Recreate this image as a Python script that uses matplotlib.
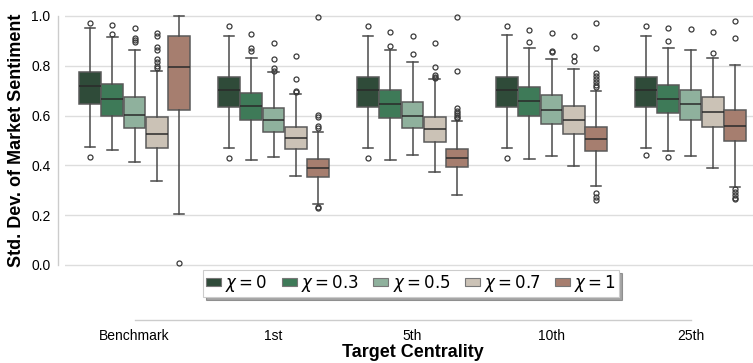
import matplotlib
matplotlib.use("Agg")
import matplotlib.pyplot as plt
from matplotlib.patches import Patch

plt.rcParams['font.family'] = ['Liberation Sans', 'DejaVu Sans']
plt.rcParams['mathtext.fontset'] = 'dejavusans'

groups = ["Benchmark", "1st", "5th", "10th", "25th"]
chi_labels = [r"$\chi = 0$", r"$\chi = 0.3$", r"$\chi = 0.5$", r"$\chi = 0.7$", r"$\chi = 1$"]
colors = ["#2f4b39", "#3e7a58", "#8fb19d", "#cbc2b6", "#a67e6f"]

# per group: lists indexed by chi
q1 = [
    [0.645, 0.598, 0.550, 0.469, 0.622],
    [0.636, 0.582, 0.533, 0.465, 0.352],
    [0.636, 0.589, 0.550, 0.495, 0.392],
    [0.636, 0.597, 0.565, 0.526, 0.458],
    [0.636, 0.610, 0.581, 0.554, 0.498],
]
med = [
    [0.718, 0.665, 0.602, 0.525, 0.797],
    [0.701, 0.639, 0.581, 0.510, 0.390],
    [0.701, 0.648, 0.600, 0.545, 0.428],
    [0.701, 0.659, 0.622, 0.581, 0.505],
    [0.701, 0.668, 0.645, 0.613, 0.558],
]
q3 = [
    [0.775, 0.726, 0.675, 0.593, 0.920],
    [0.754, 0.692, 0.629, 0.555, 0.427],
    [0.754, 0.701, 0.656, 0.596, 0.467],
    [0.753, 0.713, 0.681, 0.640, 0.555],
    [0.754, 0.723, 0.701, 0.673, 0.621],
]
whislo = [
    [0.475, 0.462, 0.415, 0.339, 0.204],
    [0.469, 0.422, 0.435, 0.356, 0.244],
    [0.469, 0.420, 0.443, 0.373, 0.280],
    [0.468, 0.424, 0.436, 0.399, 0.316],
    [0.470, 0.459, 0.438, 0.388, 0.313],
]
whishi = [
    [0.950, 0.916, 0.863, 0.780, 1.000],
    [0.921, 0.830, 0.774, 0.686, 0.535],
    [0.921, 0.865, 0.814, 0.746, 0.580],
    [0.923, 0.871, 0.827, 0.787, 0.699],
    [0.921, 0.873, 0.865, 0.833, 0.802],
]
fliers = [
    [[0.972, 0.435], [0.964, 0.928], [0.950, 0.910, 0.904, 0.897],
     [0.933, 0.920, 0.877, 0.863, 0.826, 0.817, 0.799, 0.790], [0.007]],
    [[0.960, 0.430], [0.929, 0.870, 0.859], [0.890, 0.826, 0.790, 0.780],
     [0.841, 0.746, 0.700, 0.695], [0.997, 0.602, 0.593, 0.558, 0.551, 0.234, 0.228]],
    [[0.960, 0.430], [0.936, 0.878], [0.918, 0.849],
     [0.890, 0.797, 0.763, 0.756, 0.751], [0.997, 0.780, 0.632, 0.618, 0.609, 0.602, 0.593, 0.589]],
    [[0.960, 0.431], [0.942, 0.894], [0.930, 0.859, 0.854],
     [0.918, 0.841, 0.819], [0.973, 0.870, 0.772, 0.759, 0.746, 0.736, 0.723, 0.716, 0.288, 0.274, 0.261]],
    [[0.960, 0.440], [0.950, 0.901, 0.432], [0.946],
     [0.934, 0.851], [0.980, 0.910, 0.304, 0.292, 0.281, 0.270, 0.264]],
]

W, H = 753, 363
fig = plt.figure(figsize=(W / 100, H / 100), dpi=100)
ax_left, ax_right = 65, 760
ax_top, ax_bot = 8.5, 314.8
ax = fig.add_axes([ax_left / W, 1 - ax_bot / H, (ax_right - ax_left) / W, (ax_bot - ax_top) / H])

n = len(chi_labels)
step = 0.8 / n
line_c = "#4a4a4a"
for gi, g in enumerate(groups):
    for ci in range(n):
        pos = gi - 0.4 + step * (ci + 0.5)
        stats = [dict(med=med[gi][ci], q1=q1[gi][ci], q3=q3[gi][ci],
                      whislo=whislo[gi][ci], whishi=whishi[gi][ci],
                      fliers=fliers[gi][ci])]
        ax.bxp(stats, positions=[pos], widths=step * 0.98, patch_artist=True,
               manage_ticks=False,
               boxprops=dict(facecolor=colors[ci], edgecolor="#5a5a5a", linewidth=1.1),
               medianprops=dict(color="#2a2a2a", linewidth=1.1),
               whiskerprops=dict(color=line_c, linewidth=1.1),
               capprops=dict(color=line_c, linewidth=1.1),
               flierprops=dict(marker="o", markersize=3.6, markerfacecolor="none",
                               markeredgecolor="#3a3a3a", markeredgewidth=0.9),
               zorder=3)

ymin, ymax = -0.2, 1.03
ax.set_xlim(-0.5, 4.5)
ax.set_ylim(ymin, ymax)
ax.set_xticks(range(len(groups)))
ax.set_xticklabels(groups, fontsize=12.3)
ax.set_yticks([0.0, 0.2, 0.4, 0.6, 0.8, 1.0])
ax.set_yticklabels(["0.0", "0.2", "0.4", "0.6", "0.8", "1.0"], fontsize=12.3)
ax.tick_params(axis="both", length=0)
ax.tick_params(axis="y", pad=5.5)
ax.tick_params(axis="x", pad=6)
ax.yaxis.grid(True, color="#dddddd", linewidth=1.0, zorder=0)
ax.set_axisbelow(True)

for s in ["top", "right"]:
    ax.spines[s].set_visible(False)
for s in ["left", "bottom"]:
    ax.spines[s].set_color("#cccccc")
    ax.spines[s].set_linewidth(1.0)
ax.spines["left"].set_position(("outward", 5))
ax.spines["left"].set_bounds(0, 1.0)
ax.spines["bottom"].set_position(("outward", 4))
ax.spines["bottom"].set_bounds(0, 4)

ax.set_ylabel("Std. Dev. of Market Sentiment", fontsize=13, fontweight="bold")
ax.yaxis.set_label_coords(-0.058, (0.5 - ymin) / (ymax - ymin))
ax.set_xlabel("Target Centrality", fontsize=13, fontweight="bold", labelpad=1)

handles = [Patch(facecolor=c, edgecolor="#777777", linewidth=0.8) for c in colors]
leg = ax.legend(handles, chi_labels, loc="center", bbox_to_anchor=(0.498, 0.102),
                ncol=5, fontsize=12, frameon=True, shadow=True, fancybox=False,
                handlelength=0.9, handleheight=0.3, handletextpad=0.25,
                columnspacing=0.85, borderpad=0.2, borderaxespad=0, framealpha=1)
leg.get_frame().set_edgecolor("#cccccc")
leg.get_frame().set_linewidth(0.8)

fig.savefig("out.png", dpi=100)
